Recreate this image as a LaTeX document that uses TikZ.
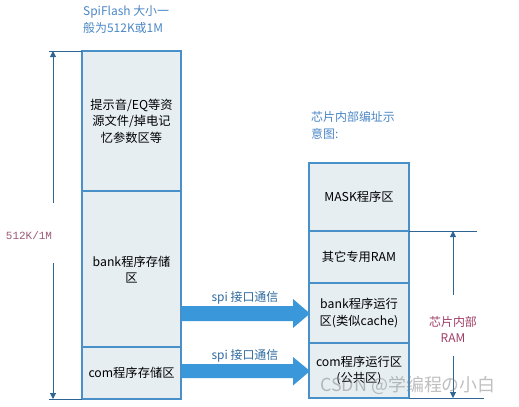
\documentclass[tikz,border=0pt]{standalone}
\usepackage{fontspec}
\setmainfont{Noto Sans CJK SC}
\newfontfamily\monofnt{Liberation Mono}
\usetikzlibrary{arrows.meta}
\definecolor{boxfill}{HTML}{E6EEF2}
\definecolor{boxline}{HTML}{4A90C8}
\definecolor{dimline}{HTML}{2E6594}
\definecolor{fatarrow}{HTML}{3A98DA}
\definecolor{titleblue}{HTML}{4A86C4}
\definecolor{redlabel}{HTML}{A03C64}
\definecolor{sizelabel}{HTML}{9C5A78}
\definecolor{spiblue}{HTML}{2E6A9E}
\begin{document}
\begin{tikzpicture}[x=1bp,y=-1bp,
  sect/.style={draw=boxline,fill=boxfill,line width=1.1bp},
  body/.style={font=\fontsize{12.3}{16.5}\selectfont,align=center,text=black,inner sep=0},
  ttl/.style={font=\fontsize{12}{17.5}\selectfont,align=left,text=titleblue,inner sep=0,anchor=north west},
  dim/.style={draw=dimline,line width=1bp},
  dimarrow/.style={dim,-{Triangle[length=6bp,width=6bp]}},
  spi/.style={font=\fontsize{12}{14}\selectfont,text=spiblue,inner sep=0}
]
\useasboundingbox (0,0) rectangle (519,406);

% left column
\draw[sect] (82,51) rectangle (181,191);
\draw[sect] (82,191) rectangle (181,347);
\draw[sect] (82,347) rectangle (181,399);
\node[body] (res) at (131.5,121) {提示音/EQ等资\\源文件/掉电记\\忆参数区等};
\node[body] (bankstore) at (131.5,269.5) {bank程序存储\\区};
\node[body] (comstore) at (131.5,373) {com程序存储区};

% left title
\node[ttl] (ltitle) at (83,5) {SpiFlash 大小一\\般为512K或1M};

% left dimension
\coordinate (ltop) at (53,51);
\coordinate (lbot) at (53,399);
\coordinate (lgapa) at (53,203);
\coordinate (lgapb) at (53,263);
\draw[dim] (49,51) -- (82,51);
\draw[dim] (49,399) -- (82,399);
\draw[dimarrow] (lgapa) -- (ltop);
\draw[dimarrow] (lgapb) -- (lbot);
\node[font=\monofnt\fontsize{11}{13}\selectfont,text=sizelabel,inner sep=0] (lsize) at (29,236) {512K/1M};

% right column
\draw[sect] (309,163) rectangle (409,231);
\draw[sect] (309,231) rectangle (409,283);
\draw[sect] (309,283) rectangle (409,343);
\draw[sect] (309,343) rectangle (409,398);
\node[body] (mask) at (359,197) {MASK程序区};
\node[body] (otherram) at (359,257) {其它专用RAM};
\node[body] (bankrun) at (359,313) {bank程序运行\\区(类似cache)};
\node[body] (comrun) at (359,370.5) {com程序运行区\\(公共区)};

% right title
\node[ttl] (rtitle) at (311,111) {芯片内部编址示\\意图:};

% right dimension
\coordinate (rtop) at (453,231);
\coordinate (rbot) at (453,398);
\coordinate (rgapa) at (453,295);
\coordinate (rgapb) at (453,356);
\draw[dim] (409,231) -- (477,231);
\draw[dim] (409,398) -- (484,398);
\draw[dimarrow] (rgapa) -- (rtop);
\draw[dimarrow] (rgapb) -- (rbot);
\node[font=\fontsize{12}{15.5}\selectfont,align=center,text=redlabel,inner sep=0] (ramlbl) at (453,329.5) {芯片内部\\RAM};

% fat arrows
\fill[fatarrow] (182,306) -- (293,306) -- (293,299) -- (310,313.5) -- (293,328) -- (293,321) -- (182,321) -- cycle;
\fill[fatarrow] (182,364) -- (293,364) -- (293,357) -- (310,371) -- (293,385.5) -- (293,378) -- (182,378) -- cycle;
\node[spi] (spia) at (245,298) {spi 接口通信};
\node[spi] (spib) at (245,356) {spi 接口通信};

% watermark
\node[font=\fontsize{18}{20}\selectfont,text=gray,opacity=0.5,inner sep=0] (wm) at (408,385) {CSDN @学编程の小白};
\end{tikzpicture}
\end{document}
